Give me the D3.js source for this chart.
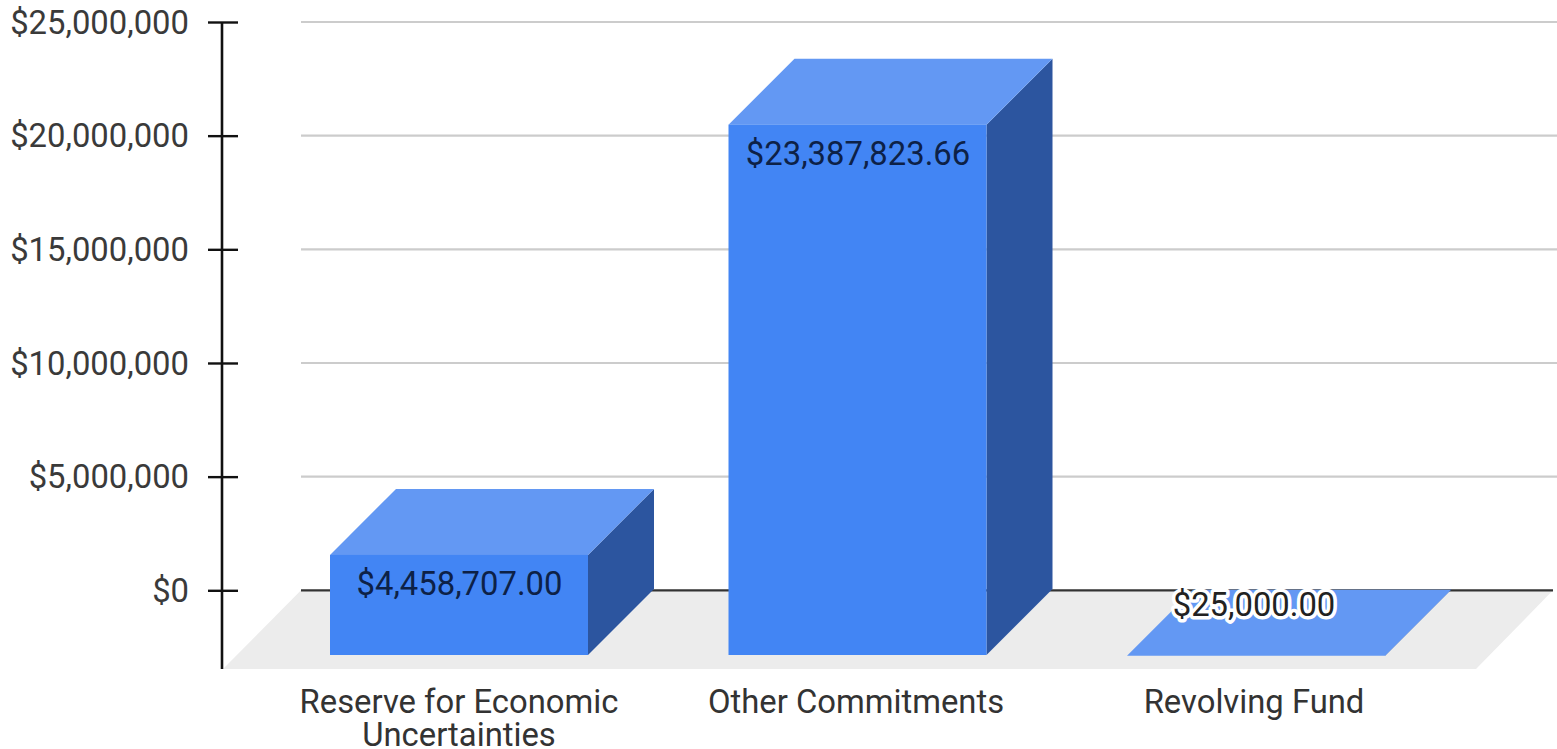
<!DOCTYPE html>
<html>
<head>
<meta charset="utf-8">
<style>
  html, body { margin: 0; padding: 0; background: #fff; overflow: hidden; }
  text { font-family: Roboto, sans-serif; }
</style>
<script src="https://cdn.jsdelivr.net/npm/d3@7/dist/d3.min.js"></script>
</head>
<body>
<svg id="chart" width="1557" height="749"></svg>
<script>
// Budget categories and their amounts in dollars
const categories = ["Reserve for Economic Uncertainties", "Other Commitments", "Revolving Fund"];
const categoryLines = [["Reserve for Economic", "Uncertainties"], ["Other Commitments"], ["Revolving Fund"]];
const amounts = [4458707.00, 23387823.66, 25000.00];
const amountLabels = ["$4,458,707.00", "$23,387,823.66", "$25,000.00"];
const axisTicks = [0, 5000000, 10000000, 15000000, 20000000, 25000000];

const svg = d3.select("#chart");

// Vertical value scale on the back wall of the 3D plot
const y = d3.scaleLinear().domain([0, 25000000]).range([590.3, 22]);

// Front-face band positions: 258px wide bars, 398.5px apart
const x = d3.scaleBand()
  .domain(categories)
  .range([330, 1385])
  .paddingInner(140.5 / 398.5)
  .paddingOuter(0);

// Oblique projection offset between the front and back of a bar
const depthX = 66, depthY = 66;
const floorFrontY = 669, frontBaseY = 655;

const fmt = d3.format("$,.0f");

// Floor of the plot
svg.append("path")
  .attr("d", d3.line()([[301, y(0)], [1553, y(0)], [1476, floorFrontY], [223, floorFrontY]]) + "Z")
  .attr("fill", "#ececec");

// Value axis with ticks crossing its line and gridlines on the back wall
const yAxis = svg.append("g")
  .attr("transform", "translate(238,0)")
  .call(d3.axisLeft(y).tickValues(axisTicks).tickFormat(fmt).tickSizeInner(30).tickSizeOuter(0).tickPadding(19));
yAxis.select(".domain").remove();
yAxis.selectAll(".tick line").attr("stroke", "#111").attr("stroke-width", 2.4);
yAxis.selectAll(".tick text")
  .attr("fill", "#3a3a3a")
  .attr("x", -49)
  .style("font-family", "Roboto, sans-serif")
  .style("font-size", "32.8px")
  .attr("dy", "0.34em");

svg.append("line")
  .attr("x1", 222).attr("x2", 222)
  .attr("y1", y(25000000)).attr("y2", floorFrontY)
  .attr("stroke", "#111").attr("stroke-width", 2.6);

svg.selectAll(".grid")
  .data(axisTicks)
  .join("line")
  .attr("class", "grid")
  .attr("x1", 301).attr("x2", d => d === 0 ? 1553 : 1557)
  .attr("y1", d => y(d)).attr("y2", d => y(d))
  .attr("stroke", d => d === 0 ? "#333" : "#ccc")
  .attr("stroke-width", 2.2);

// One group per bar: top, side and front faces
const bars = svg.selectAll(".bar")
  .data(categories.map((c, i) => ({ c, v: amounts[i], i })))
  .join("g")
  .attr("class", "bar");

const w = x.bandwidth();

bars.append("path") // side face
  .attr("d", d => {
    const x1 = x(d.c) + w, top = y(d.v);
    return d3.line()([[x1, top + depthY], [x1 + depthX, top], [x1 + depthX, frontBaseY - depthY], [x1, frontBaseY]]) + "Z";
  })
  .attr("fill", "#2c559f");

bars.append("path") // top face
  .attr("d", d => {
    const x0 = x(d.c), top = y(d.v);
    return d3.line()([[x0, top + depthY], [x0 + depthX, top], [x0 + w + depthX, top], [x0 + w, top + depthY]]) + "Z";
  })
  .attr("fill", "#6398f3");

bars.append("rect") // front face
  .attr("x", d => x(d.c))
  .attr("y", d => y(d.v) + depthY)
  .attr("width", w)
  .attr("height", d => Math.max(0, frontBaseY - (y(d.v) + depthY)))
  .attr("fill", "#4285f4");

// Amount labels: dark on the bar, white halo when the bar is too thin to hold them
const labelLayout = [
  { cx: 459.5, base: 595, fill: "#0d2147", halo: false },
  { cx: 858, base: 165, fill: "#0d2147", halo: false },
  { cx: 1254, base: 616, fill: "#222", halo: true }
];
svg.selectAll(".amount")
  .data(amountLabels)
  .join("text")
  .attr("class", "amount")
  .attr("x", (d, i) => labelLayout[i].cx)
  .attr("y", (d, i) => labelLayout[i].base)
  .attr("text-anchor", "middle")
  .attr("font-size", 32.8)
  .attr("fill", (d, i) => labelLayout[i].fill)
  .attr("stroke", (d, i) => labelLayout[i].halo ? "#fff" : "none")
  .attr("stroke-width", 7)
  .attr("stroke-linejoin", "round")
  .attr("paint-order", "stroke")
  .text(d => d);

// Category labels under the floor
const catCenters = [459, 856, 1254];
const catText = svg.selectAll(".cat")
  .data(categoryLines)
  .join("text")
  .attr("class", "cat")
  .attr("text-anchor", "middle")
  .attr("font-size", 32.8)
  .attr("fill", "#333");
catText.selectAll("tspan")
  .data((d, i) => d.map(t => ({ t, i })))
  .join("tspan")
  .attr("x", d => catCenters[d.i])
  .attr("y", (d, j) => 713 + j * 33)
  .text(d => d.t);
</script>
</body>
</html>
